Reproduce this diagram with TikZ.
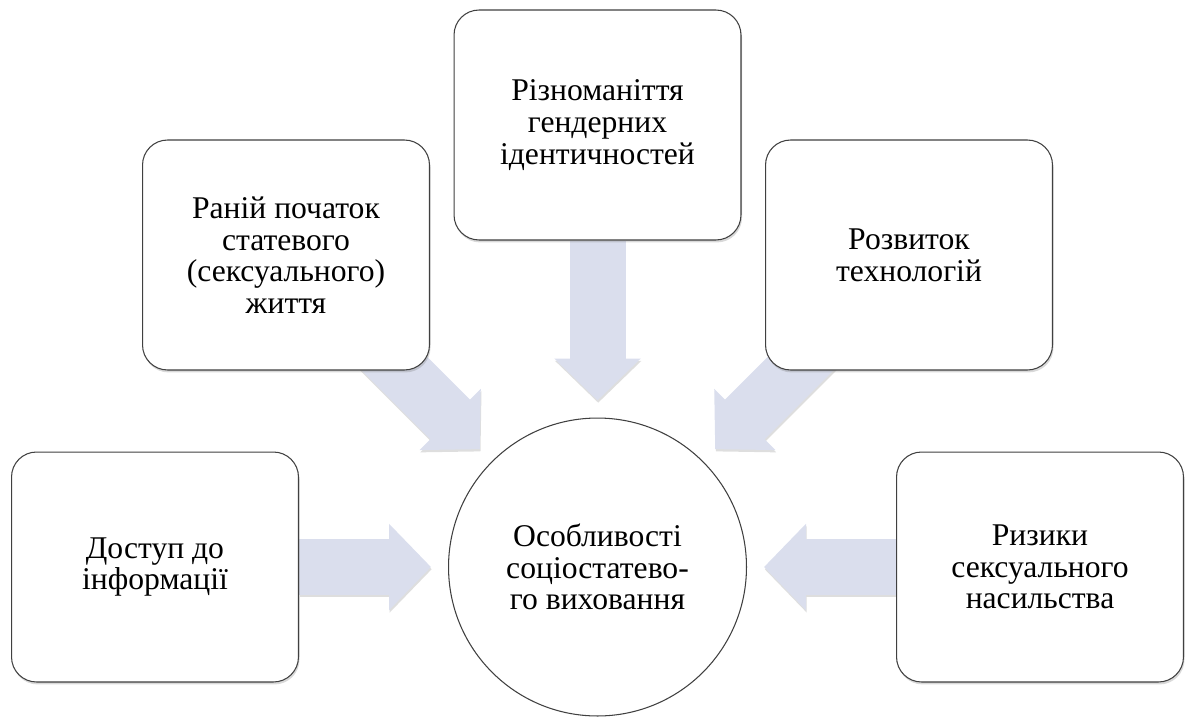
\documentclass[tikz,border=0pt]{standalone}
\usepackage{fontspec}
\setmainfont{Liberation Serif}
\usetikzlibrary{arrows.meta,shadows,backgrounds,positioning}
\definecolor{arrowblue}{HTML}{DADEED}
\tikzset{
	box/.style={draw=black!75, line width=0.6pt, fill=white, rounded corners=0.5cm,
		minimum width=5.74cm, minimum height=4.6cm, align=center,
		font=\fontsize{18}{18}\selectfont,
		drop shadow={shadow xshift=0.6pt, shadow yshift=-1.4pt, opacity=0.3}},
	hubcircle/.style={circle, draw=black!75, line width=0.6pt, fill=white,
		minimum size=5.96cm, inner sep=0pt, align=center,
		font=\fontsize{18}{18}\selectfont},
	bigarrow/.style={line width=1.12cm, draw=arrowblue,
		-{Triangle[width=1.68cm,length=0.84cm]}, shorten >=0.34cm},
	arrowshadow/.style={bigarrow, draw=black!13,
		transform canvas={shift={(0.4pt,-1.3pt)}}}
}
\begin{document}
\begin{tikzpicture}[x=0.02cm,y=0.02cm]
\useasboundingbox (0,0) rectangle (1185,718);
% centre
\node[hubcircle] (hub) at (597.5,151) {\raisebox{-0.3cm}{\parbox{5cm}{\centering Особливості\\соціостатево-\\го виховання}}};
% factors
\node[box] (info) at (155,151) {Доступ до\\інформації};
\node[box] (early) at (286,463) {Раній початок\\статевого\\(сексуального)\\життя};
\node[box] (diversity) at (597.5,593) {Різноманіття\\гендерних\\ідентичностей};
\node[box] (tech) at (909,463) {Розвиток\\технологій};
\node[box] (risks) at (1040,151) {Ризики\\сексуального\\насильства};
% block arrows
\begin{scope}[on background layer]
	\foreach \from in {info,risks,diversity}{
		\draw[arrowshadow] (\from) -- (hub);
		\draw[bigarrow] (\from) -- (hub);}
	\foreach \from in {early,tech}{
		\draw[arrowshadow, shorten <=-1.6cm] (\from) -- (hub);
		\draw[bigarrow, shorten <=-1.6cm] (\from) -- (hub);}
\end{scope}
\end{tikzpicture}
\end{document}
